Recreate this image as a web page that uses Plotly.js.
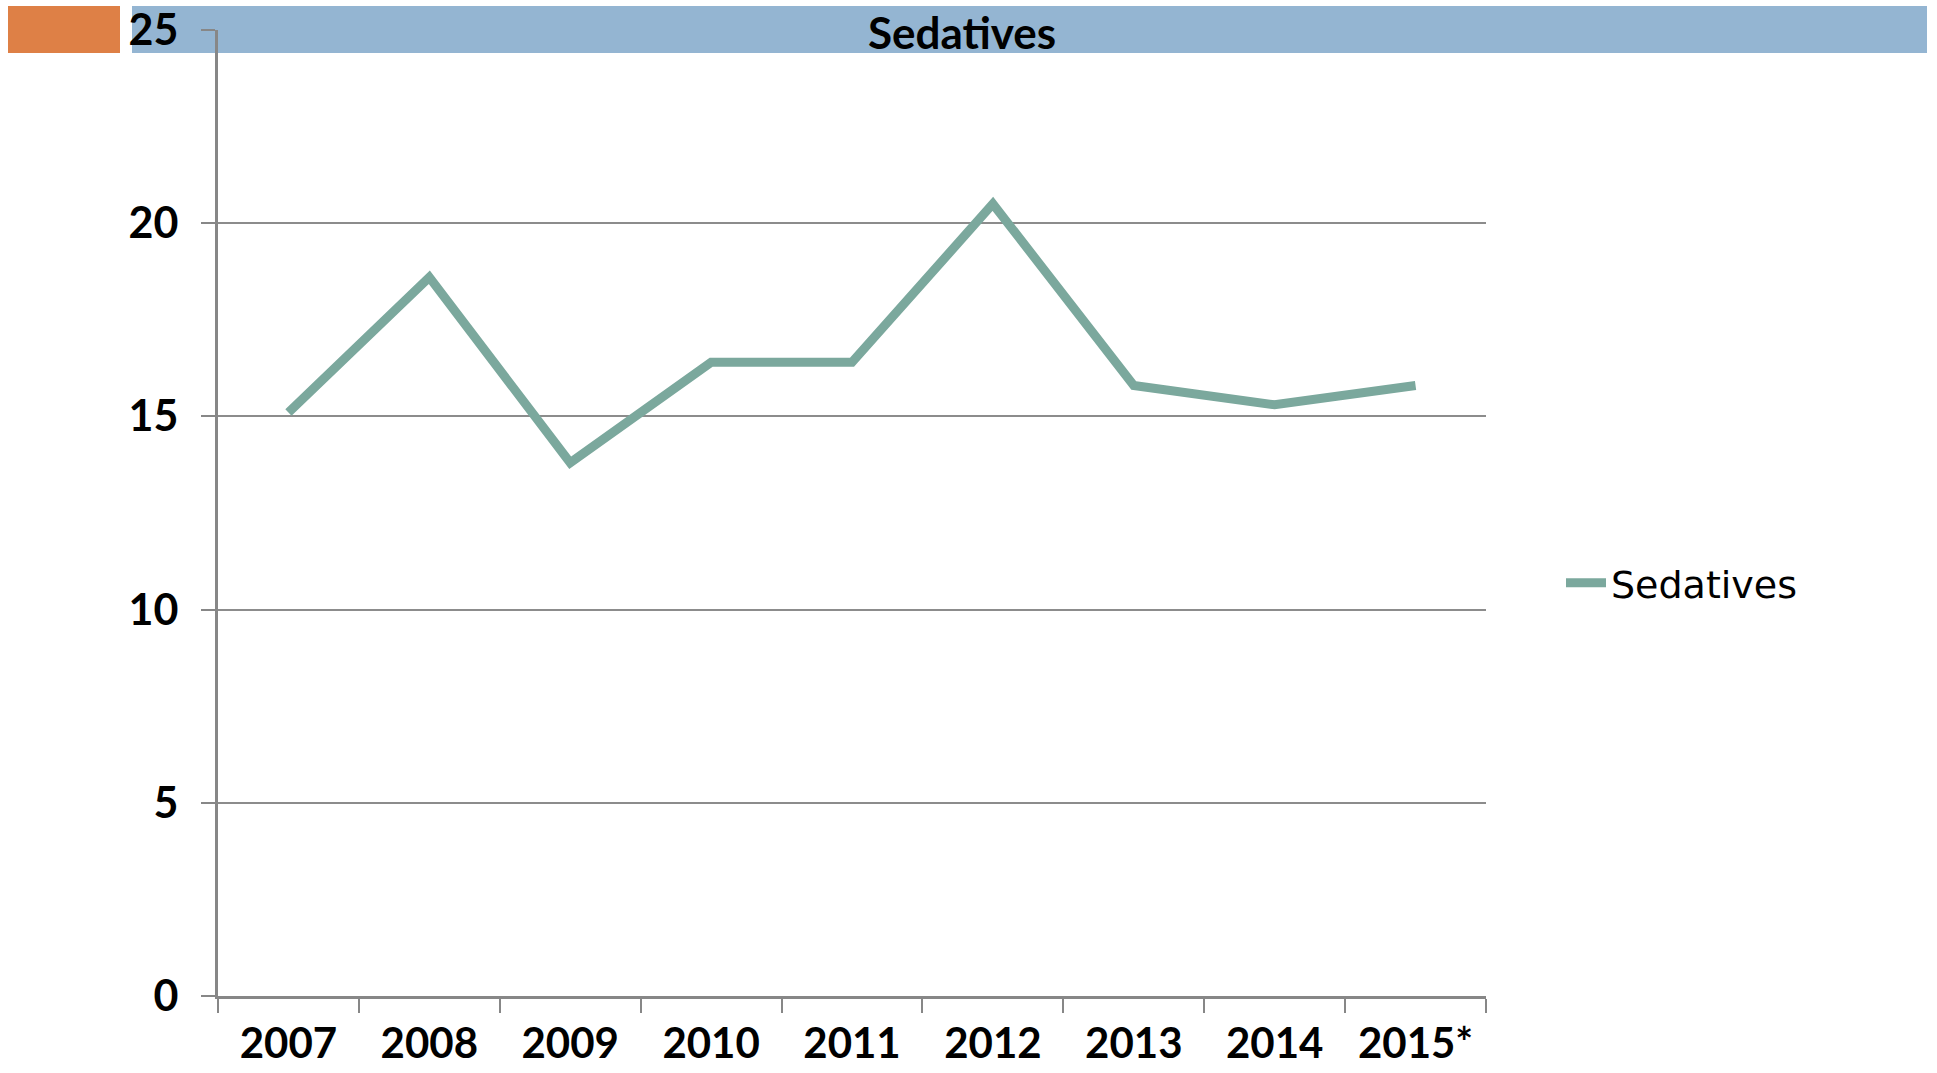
<!DOCTYPE html>
<html>
<head>
<meta charset="utf-8">
<script src="https://cdn.plot.ly/plotly-3.0.1.min.js"></script>
<style>
  html, body { margin: 0; padding: 0; background: #ffffff; }
  #chart { width: 1937px; height: 1073px; }
</style>
</head>
<body>
<div id="chart"></div>
<script>
// ---- data ----
const years = ["2007", "2008", "2009", "2010", "2011", "2012", "2013", "2014", "2015*"];
const sedatives = [15.1, 18.6, 13.8, 16.4, 16.4, 20.5, 15.8, 15.3, 15.8];
const seriesName = "Sedatives";
const chartTitle = "Sedatives";
const yTickValues = [0, 5, 10, 15, 20, 25];

// ---- layout constants (pixels) ----
const W = 1937, H = 1073;
const plotL = 218, plotR = 1486, plotT = 30, plotB = 996;
const pw = plotR - plotL, ph = plotB - plotT;
const px = v => (v - plotL) / pw;     // pixel x -> paper x
const py = v => (plotB - v) / ph;     // pixel y -> paper y

const boldFont = "Lato, 'Noto Sans', sans-serif";

const trace = {
  type: "scatter",
  mode: "lines",
  x: years,
  y: sedatives,
  name: seriesName,
  line: { color: "#7ba89d", width: 9 },
  hoverinfo: "x+y"
};

const layout = {
  width: W,
  height: H,
  margin: { l: plotL, r: W - plotR, t: plotT, b: H - plotB, pad: 0 },
  paper_bgcolor: "#ffffff",
  plot_bgcolor: "rgba(0,0,0,0)",
  font: { family: boldFont, color: "#000000" },
  title: {
    text: "<b>" + chartTitle + "</b>",
    font: { family: boldFont, size: 44, color: "#000000" },
    xref: "paper",
    x: px(962),
    xanchor: "center",
    yref: "container",
    y: 1 - 34 / H,
    yanchor: "middle"
  },
  showlegend: true,
  legend: {
    x: px(1561),
    xanchor: "left",
    y: py(583),
    yanchor: "middle",
    font: { family: "'DejaVu Sans', sans-serif", size: 38, color: "#000000" },
    bgcolor: "rgba(0,0,0,0)",
    itemwidth: 40
  },
  xaxis: {
    type: "category",
    range: [-0.5, years.length - 0.5],
    tickson: "boundaries",
    ticks: "outside",
    ticklen: 14,
    tickwidth: 2,
    tickcolor: "#878787",
    showline: true,
    linecolor: "#878787",
    linewidth: 3,
    showgrid: false,
    zeroline: false,
    ticklabelstandoff: 9,
    tickfont: { family: boldFont, size: 42, color: "#000000", weight: "bold" },
    fixedrange: true
  },
  yaxis: {
    range: [0, 25],
    tickmode: "array",
    tickvals: yTickValues,
    ticktext: yTickValues.map(String),
    ticks: "outside",
    ticklen: 14,
    tickwidth: 2,
    tickcolor: "#878787",
    showline: true,
    linecolor: "#878787",
    linewidth: 3,
    showgrid: true,
    gridcolor: "#8c8c8c",
    gridwidth: 2,
    zeroline: false,
    ticklabelstandoff: 14,
    tickfont: { family: boldFont, size: 43, color: "#000000", weight: "bold" },
    fixedrange: true
  },
  shapes: [
    {
      type: "rect", layer: "below",
      xref: "paper", yref: "paper",
      x0: px(8), x1: px(120), y0: py(53), y1: py(6),
      fillcolor: "#de8046", line: { width: 0 }
    },
    {
      type: "rect", layer: "below",
      xref: "paper", yref: "paper",
      x0: px(132), x1: px(1927), y0: py(53), y1: py(6),
      fillcolor: "#94b5d2", line: { width: 0 }
    }
  ]
};

Plotly.newPlot("chart", [trace], layout, { displayModeBar: false, staticPlot: true });
</script>
</body>
</html>
